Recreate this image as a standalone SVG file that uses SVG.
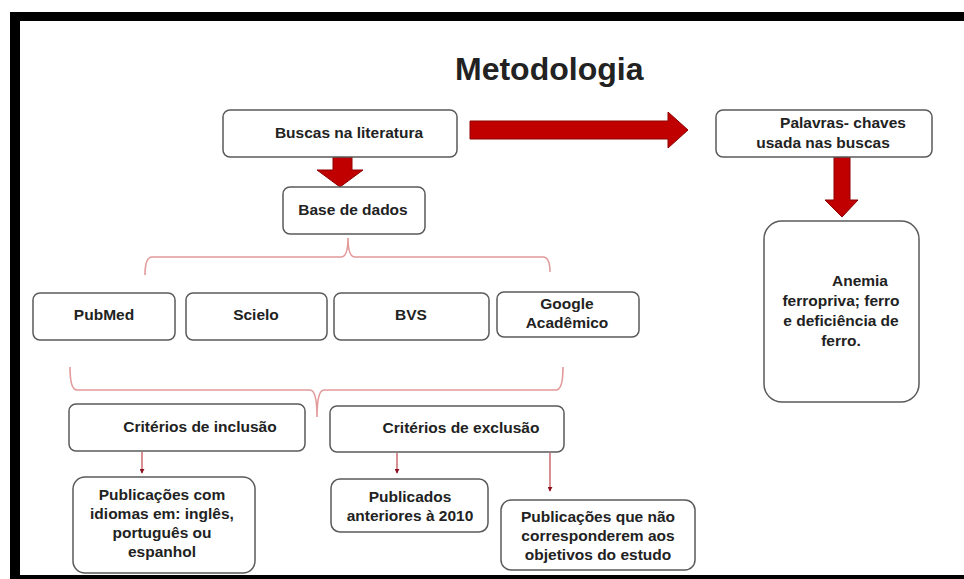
<svg xmlns="http://www.w3.org/2000/svg" width="964" height="579" viewBox="0 0 964 579">
<style>
.box{fill:#fff;stroke:#5a5a5a;stroke-width:1.5}
.t{font-family:"Liberation Sans",Arial,sans-serif;font-weight:bold;font-size:15.5px;fill:#222;text-anchor:middle}
.big{fill:#c00000;stroke:#8e0000;stroke-width:1}
.br{fill:none;stroke:#e39a9a;stroke-width:1.6}
.sa{stroke:#c0444a;stroke-width:1.2;fill:none}
</style>
<defs>
<marker id="ah" viewBox="0 0 6 6" refX="5" refY="3" markerWidth="5" markerHeight="5" orient="auto" markerUnits="userSpaceOnUse">
<path d="M0,0 L6,3 L0,6 Z" fill="#8a1020"/>
</marker>
</defs>
<rect x="10" y="12" width="954" height="567" fill="#000"/>
<rect x="20" y="21" width="944" height="554" fill="#fff"/>
<text x="455" y="80" font-family="Liberation Sans,Arial,sans-serif" font-weight="bold" font-size="32" fill="#222">Metodologia</text>
<g id="connectors">
<path class="big" d="M333,157 H352 V170 H363 L340,187 L317,170 H333 Z"/>
<path class="big" d="M470,121 H668 V112 L688,130 L668,148 V139 H470 Z"/>
<path class="big" d="M834,157 H850 V200 H858 L842,217 L825,200 H834 Z"/>
<path class="br" d="M145,275 Q145,257 152,257 H341 Q348,257 348,238 Q348,257 355,257 H543 Q550,257 550,272"/>
<path class="br" d="M70,367 Q70,390 77,390 H310 Q317,390 317,417 Q317,390 324,390 H556 Q563,390 563,367"/>
<line class="sa" x1="142" y1="452" x2="142" y2="473" marker-end="url(#ah)"/>
<line class="sa" x1="397" y1="453" x2="397" y2="473" marker-end="url(#ah)"/>
<line class="sa" x1="550" y1="453" x2="550" y2="491" marker-end="url(#ah)"/>
</g>
<g id="buscas"><rect class="box" x="223" y="110" width="234" height="47" rx="7"/><text class="t" x="349" y="138">Buscas na literatura</text></g>
<g id="base"><rect class="box" x="283" y="187" width="142" height="47" rx="7"/><text class="t" x="353" y="215">Base de dados</text></g>
<g id="palavras"><rect class="box" x="716" y="110" width="216" height="47" rx="7"/><text class="t" x="843" y="128">Palavras- chaves</text><text class="t" x="823" y="148">usada nas buscas</text></g>
<g id="anemia"><rect class="box" x="764" y="221" width="155" height="181" rx="18"/><text class="t" x="860" y="286">Anemia</text><text class="t" x="841" y="306">ferropriva; ferro</text><text class="t" x="841" y="326">e deficiência de</text><text class="t" x="841" y="346">ferro.</text></g>
<g id="pubmed"><rect class="box" x="33" y="293" width="142" height="47" rx="7"/><text class="t" x="104" y="320">PubMed</text></g>
<g id="scielo"><rect class="box" x="186" y="293" width="141" height="47" rx="7"/><text class="t" x="256" y="320">Scielo</text></g>
<g id="bvs"><rect class="box" x="334" y="293" width="155" height="47" rx="7"/><text class="t" x="411" y="320">BVS</text></g>
<g id="google"><rect class="box" x="497" y="292" width="142" height="45" rx="7"/><text class="t" x="567" y="309">Google</text><text class="t" x="567" y="328">Acadêmico</text></g>
<g id="inclusao"><rect class="box" x="69" y="404" width="236" height="47" rx="7"/><text class="t" x="200" y="432">Critérios de inclusão</text></g>
<g id="exclusao"><rect class="box" x="330" y="406" width="234" height="46" rx="7"/><text class="t" x="461" y="433">Critérios de exclusão</text></g>
<g id="idiomas"><rect class="box" x="73" y="477" width="182" height="96" rx="12"/><text class="t" x="162" y="500">Publicações com</text><text class="t" x="162" y="519">idiomas em: inglês,</text><text class="t" x="162" y="538">português ou</text><text class="t" x="162" y="557">espanhol</text></g>
<g id="anteriores"><rect class="box" x="331" y="479" width="157" height="53" rx="9"/><text class="t" x="410" y="502">Publicados</text><text class="t" x="410" y="521">anteriores à 2010</text></g>
<g id="objetivos"><rect class="box" x="501" y="500" width="194" height="70" rx="10"/><text class="t" x="598" y="522">Publicações que não</text><text class="t" x="598" y="541">corresponderem aos</text><text class="t" x="598" y="560">objetivos do estudo</text></g>
</svg>
